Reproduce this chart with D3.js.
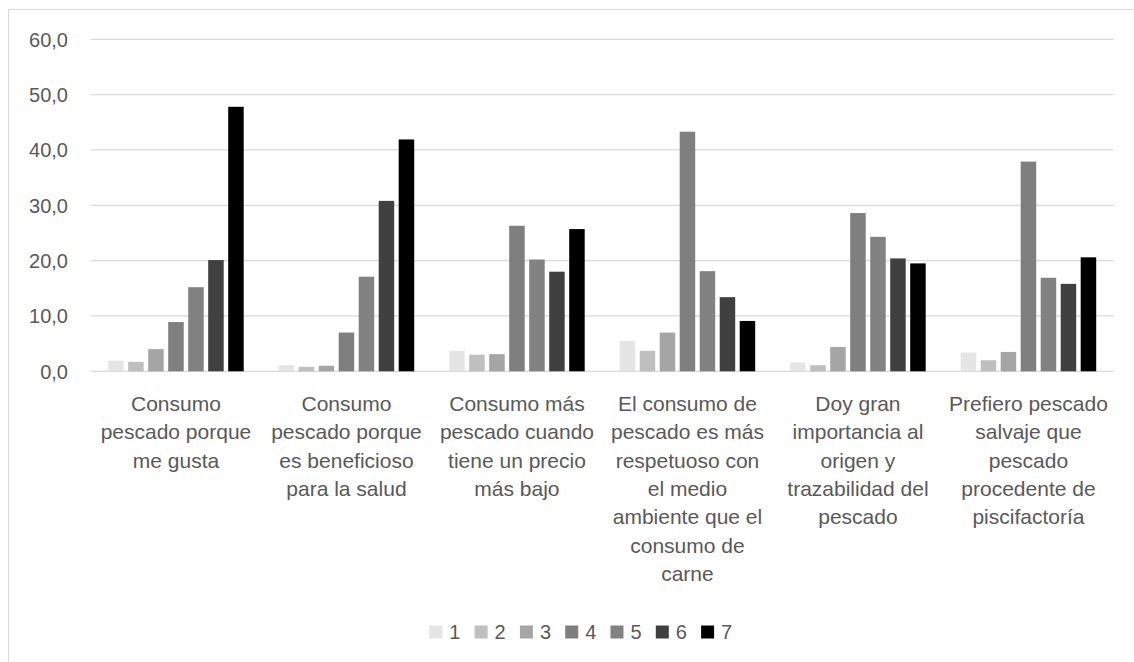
<!DOCTYPE html>
<html>
<head>
<meta charset="utf-8">
<script src="https://cdn.jsdelivr.net/npm/d3@7"></script>
<style>
  body { margin: 0; background: #fff; }
  text { font-family: "Liberation Sans", Arial, sans-serif; fill: #595959; }
</style>
</head>
<body>
<div class="chart"></div>
<script>
const width = 1134;
const height = 662;

const categories = [
    'Consumo\npescado porque\nme gusta',
    'Consumo\npescado porque\nes beneficioso\npara la salud',
    'Consumo más\npescado cuando\ntiene un precio\nmás bajo',
    'El consumo de\npescado es más\nrespetuoso con\nel medio\nambiente que el\nconsumo de\ncarne',
    'Doy gran\nimportancia al\norigen y\ntrazabilidad del\npescado',
    'Prefiero pescado\nsalvaje que\npescado\nprocedente de\npiscifactoría',
]

const seriesNames = ['1', '2', '3', '4', '5', '6', '7']

const s1 = [1.9, 1.1, 3.7, 5.5, 1.6, 3.4]
const s2 = [1.7, 0.8, 3.0, 3.7, 1.1, 2.0]
const s3 = [4.0, 1.0, 3.1, 7.0, 4.4, 3.5]
const s4 = [8.9, 7.0, 26.3, 43.3, 28.6, 37.9]
const s5 = [15.2, 17.1, 20.2, 18.1, 24.3, 16.9]
const s6 = [20.1, 30.8, 18.0, 13.4, 20.4, 15.8]
const s7 = [47.8, 41.9, 25.7, 9.1, 19.5, 20.6]

const yTicks = [0, 10, 20, 30, 40, 50, 60]

const seriesValues = [s1, s2, s3, s4, s5, s6, s7]
const colors = ['#e5e5e5', '#bfbfbf', '#a5a5a5', '#7f7f7f', '#828282', '#404040', '#000000']

const fmt = v => d3.format('.1f')(v).replace('.', ',')

const svg = d3.select('.chart')
    .append('svg')
    .attr('width', width)
    .attr('height', height)

// chart frame (right and bottom edges run off the picture)
svg.append('rect')
    .attr('x', 8.5)
    .attr('y', 9.5)
    .attr('width', 1200)
    .attr('height', 700)
    .attr('fill', 'none')
    .attr('stroke', '#d9d9d9')

const x0 = d3.scaleBand()
    .domain(d3.range(categories.length))
    .range([90.7, 1113.7])

const x1 = d3.scaleBand()
    .domain(d3.range(seriesNames.length))
    .range([0, x0.bandwidth()])
    .paddingInner(0.225)
    .paddingOuter(0.875)

const y = d3.scaleLinear()
    .domain([0, 60])
    .range([371.3, 39.3])

// gridlines
svg.append('g')
    .selectAll('line')
    .data(yTicks)
    .enter()
    .append('line')
    .attr('x1', 90.7)
    .attr('x2', 1113.7)
    .attr('y1', d => y(d))
    .attr('y2', d => y(d))
    .attr('stroke', '#d9d9d9')
    .attr('stroke-width', 1.3)

// y labels
svg.append('g')
    .selectAll('text')
    .data(yTicks)
    .enter()
    .append('text')
    .attr('x', 68)
    .attr('y', d => y(d))
    .attr('dy', '0.36em')
    .attr('text-anchor', 'end')
    .attr('font-size', 20)
    .text(fmt)

// bars
const groups = svg.append('g')
    .selectAll('g')
    .data(seriesValues)
    .enter()
    .append('g')
    .attr('fill', (d, i) => colors[i])
    .attr('transform', (d, i) => `translate(${x1(i)},0)`)

groups.selectAll('rect')
    .data(d => d)
    .enter()
    .append('rect')
    .attr('x', (d, i) => x0(i))
    .attr('y', d => y(d))
    .attr('width', x1.bandwidth())
    .attr('height', d => y(0) - y(d))

// category labels
const catLabels = svg.append('g')
    .selectAll('text')
    .data(categories)
    .enter()
    .append('text')
    .attr('text-anchor', 'middle')
    .attr('font-size', 21)
    .attr('transform', (d, i) => `translate(${x0(i) + x0.bandwidth() / 2},411)`)

catLabels.selectAll('tspan')
    .data(d => d.split('\n'))
    .enter()
    .append('tspan')
    .attr('x', 0)
    .attr('y', (d, i) => i * 28.3)
    .text(d => d)

// legend
const legend = svg.append('g')
    .selectAll('g')
    .data(seriesNames)
    .enter()
    .append('g')
    .attr('transform', (d, i) => `translate(${429.3 + i * 45.3},632)`)

legend.append('rect')
    .attr('x', 0)
    .attr('y', -6.5)
    .attr('width', 13)
    .attr('height', 13)
    .attr('fill', (d, i) => colors[i])

legend.append('text')
    .attr('x', 20)
    .attr('dy', '0.36em')
    .attr('font-size', 20)
    .text(d => d)
</script>
</body>
</html>
